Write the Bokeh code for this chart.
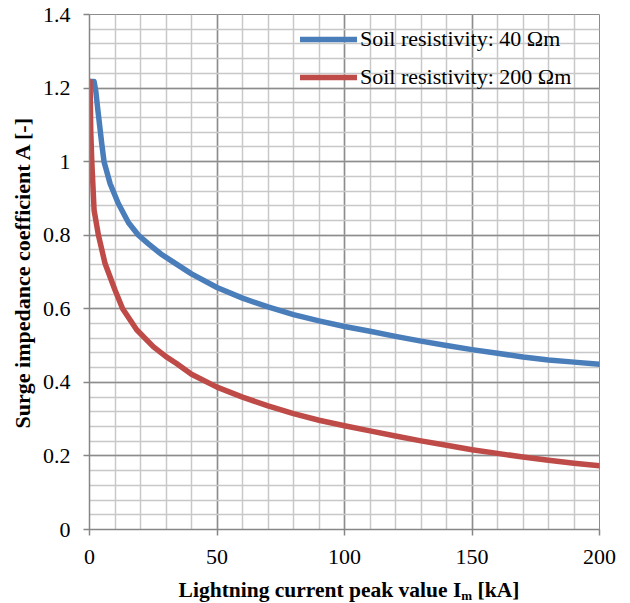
from bokeh.plotting import figure
from bokeh.models import FixedTicker, NumeralTickFormatter, Legend, LegendItem, Range1d, Div
from bokeh.layouts import column
from bokeh.embed import file_html
from bokeh.resources import INLINE

# Soil resistivity 40 Ohm·m
x_40 = [0.3, 1.8, 2.5, 3.3, 4.8, 5.7, 8.1, 11.3, 15.3, 19.2, 23, 28, 32, 40, 50, 60, 70, 80, 90,
        100, 110, 120, 130, 140, 150, 160, 170, 180, 190, 200]
a_40 = [1.218, 1.218, 1.19, 1.139, 1.049, 1.0, 0.94, 0.886, 0.834, 0.80, 0.777, 0.749, 0.731, 0.695,
        0.658, 0.629, 0.605, 0.584, 0.567, 0.552, 0.539, 0.525, 0.512, 0.500, 0.489, 0.479, 0.469,
        0.461, 0.455, 0.449]

# Soil resistivity 200 Ohm·m
x_200 = [0.2, 0.5, 0.9, 1.8, 3.5, 6.1, 10, 13, 18.5, 25, 30, 34, 40, 50, 60, 70, 80, 90,
         100, 110, 120, 130, 140, 150, 160, 170, 180, 190, 200]
a_200 = [1.218, 1.08, 1.0, 0.868, 0.8, 0.723, 0.651, 0.6, 0.543, 0.497, 0.47, 0.452, 0.422, 0.387,
         0.36, 0.336, 0.315, 0.297, 0.282, 0.268, 0.254, 0.241, 0.229, 0.217, 0.207, 0.197, 0.188,
         0.18, 0.173]

series_labels = ["Soil resistivity: 40 \u03a9m", "Soil resistivity: 200 \u03a9m"]
x_major = [0, 50, 100, 150, 200]
x_minor = list(range(0, 201, 10))
y_major = [0, 0.2, 0.4, 0.6, 0.8, 1.0, 1.2, 1.4]
y_minor = [round(i * 0.04, 2) for i in range(36)]

FONT = "Liberation Serif"
FS = "22px"
BLUE = "#4A7EBB"
RED = "#BE4B48"

p = figure(width=630, height=570, output_backend="svg", toolbar_location=None,
           x_range=Range1d(0, 200), y_range=Range1d(0, 1.4),
           min_border_left=89, min_border_right=31, min_border_top=14, min_border_bottom=41)
p.outline_line_color = "#8c8c8c"
p.background_fill_color = "white"

r1 = p.line(x_40, a_40, line_color=BLUE, line_width=5.5, line_cap="round", line_join="round")
r2 = p.line(x_200, a_200, line_color=RED, line_width=5.5, line_cap="round", line_join="round")

p.xaxis.ticker = FixedTicker(ticks=x_major, minor_ticks=x_minor)
p.yaxis.ticker = FixedTicker(ticks=y_major, minor_ticks=y_minor)
p.yaxis.formatter = NumeralTickFormatter(format="0.[0]")

for g in (p.xgrid, p.ygrid):
    g.grid_line_color = "#8c8c8c"
    g.grid_line_width = 1.5
    g.minor_grid_line_color = "#c8c8c8"
    g.minor_grid_line_width = 1.5
    g.level = "underlay"

for ax in (p.xaxis, p.yaxis):
    ax.axis_line_color = "#868686"
    ax.axis_line_width = 1.5
    ax.major_tick_line_color = "#868686"
    ax.major_tick_line_width = 1.5
    ax.major_tick_out = 6
    ax.major_tick_in = 0
    ax.minor_tick_line_color = None
    ax.major_label_text_font = FONT
    ax.major_label_text_font_size = FS
    ax.major_label_text_color = "black"

p.xaxis.major_label_standoff = 14
p.yaxis.major_label_standoff = 13

p.yaxis.axis_label = "Surge impedance coefficient A [-]"
p.yaxis.axis_label_text_font = FONT
p.yaxis.axis_label_text_font_style = "bold"
p.yaxis.axis_label_text_font_size = FS
p.yaxis.axis_label_text_color = "black"
p.yaxis.axis_label_standoff = 5

legend = Legend(items=[LegendItem(label=series_labels[0], renderers=[r1]),
                       LegendItem(label=series_labels[1], renderers=[r2])],
                location=(211, 437), orientation="vertical")
legend.background_fill_alpha = 0
legend.border_line_alpha = 0
legend.padding = 0
legend.margin = 0
legend.spacing = 8
legend.glyph_width = 57
legend.glyph_height = 30
legend.label_height = 30
legend.label_standoff = 3
legend.label_text_font = FONT
legend.label_text_font_size = FS
legend.label_text_color = "black"
p.add_layout(legend)

xlabel = Div(width=630, height=32, text=(
    "<div style=\"width:540px;margin-left:74px;text-align:center;font-family:'Liberation Serif';"
    "font-weight:bold;font-size:21.5px;line-height:30px;color:black;white-space:nowrap;\">"
    "Lightning current peak value I<span style=\"font-size:13px;vertical-align:-3px;line-height:0;\">m</span>"
    " [kA]</div>"))

layout = column(p, xlabel, spacing=0)
open("out.html", "w").write(file_html(layout, INLINE))
